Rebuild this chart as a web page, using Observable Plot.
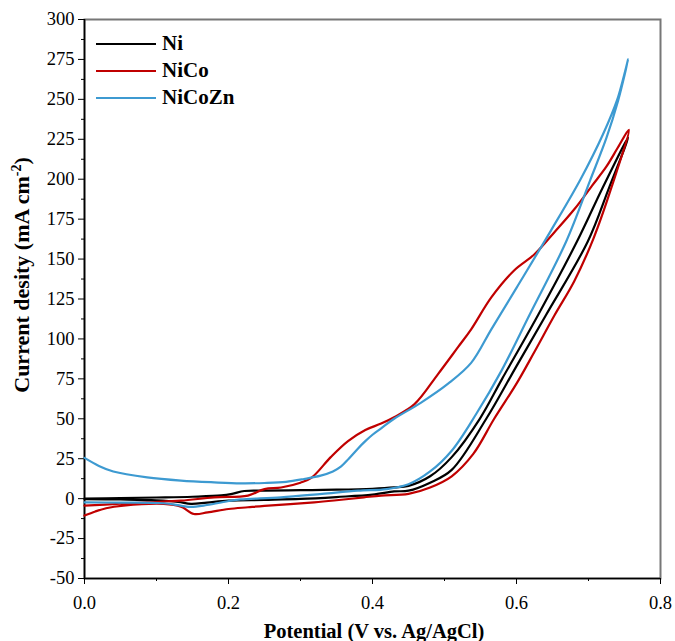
<!DOCTYPE html>
<html><head><meta charset="utf-8">
<script src="https://cdn.jsdelivr.net/npm/d3@7"></script>
<script src="https://cdn.jsdelivr.net/npm/@observablehq/plot@0.6"></script>
<style>
body{margin:0;background:#fff;}
#wrap{position:relative;width:675px;height:641px;font-family:"Liberation Serif","Times New Roman",serif;color:#000;}
#wrap svg{position:absolute;left:0;top:0;}
.lab{position:absolute;font-weight:bold;white-space:nowrap;}
.leg{position:absolute;font-weight:bold;font-size:21px;}
.legline{position:absolute;height:2.4px;}
</style></head><body><div id="wrap"></div>
<script>
const seriesNames = ["Ni", "NiCo", "NiCoZn"];
const seriesColors = ["#000000", "#c00000", "#3d9ad1"];

// Ni: forward (upper) then reverse (lower)
const niV = [0,0.05,0.1,0.15,0.19,0.205,0.222,0.25,0.3,0.35,0.4,0.43,0.45,0.48,0.51,0.549,0.58,0.63,0.684,0.72,0.755,
             0.728,0.699,0.641,0.6,0.558,0.51,0.48,0.45,0.43,0.4,0.35,0.3,0.25,0.2,0.17,0.148,0.13,0.1,0.05,0];
const niJ = [0,0.3,0.7,1.2,2,3,4.8,5,5.3,5.6,6.2,7,8,14,26,50,75,115,161,195,226,
             194,161,115,83,50,18,10,5,4.5,2.5,1,-0.2,-0.8,-1.3,-2.5,-3.3,-2,-1,-0.5,-0.3];

const nicoV = [0,0.05,0.087,0.134,0.18,0.227,0.25,0.273,0.3,0.315,0.342,0.366,0.39,0.412,0.43,0.458,0.491,0.519,0.537,0.565,0.597,0.625,0.653,0.68,0.705,0.725,0.741,0.756,
               0.732,0.707,0.68,0.653,0.625,0.6,0.569,0.54,0.51,0.48,0.45,0.412,0.388,0.35,0.319,0.25,0.227,0.2,0.171,0.152,0.134,0.11,0.054,0.03,0.015,0];
const nicoJ = [-4.4,-3.2,-2.3,-1.3,0.8,1.9,6,7,10,13,26,36,43,47,51,59,78,95,106,126,143,153,167,181,196,208,220,231,
               195,163,136,115,92,72,50,28,14,7,3,1.9,0.8,-1,-2.3,-4.5,-5.4,-6.5,-8.6,-9.6,-5,-3.3,-4.4,-6,-8,-10.6];

const nicoznV = [0,0.02,0.04,0.087,0.134,0.18,0.217,0.25,0.28,0.305,0.328,0.345,0.356,0.367,0.379,0.39,0.4,0.412,0.43,0.467,0.505,0.537,0.565,0.6,0.648,0.689,0.72,0.74,0.755,
                 0.741,0.725,0.702,0.669,0.618,0.579,0.544,0.51,0.48,0.45,0.42,0.38,0.33,0.273,0.217,0.203,0.17,0.148,0.135,0.11,0.05,0];
const nicoznJ = [25.5,20.5,17,13.3,11.3,10.2,9.6,9.8,10.5,12.3,14.4,17,20,25,31,36,40,44,50,60,72,85,106,132,168,200,228,250,275,
                 249,226,199,161,115,80,53,30,17,9,6,5,3,0.8,-0.5,-1.3,-4,-5.2,-4.5,-2.9,-2.5,-2.3];

const xTicks = [0, 0.2, 0.4, 0.6, 0.8];
const xMinor = [0.1, 0.3, 0.5, 0.7];
const yTicks = [-50,-25,0,25,50,75,100,125,150,175,200,225,250,275,300];
const yMinor = [-37.5,-12.5,12.5,37.5,62.5,87.5,112.5,137.5,162.5,187.5,212.5,237.5,262.5,287.5];

const rows = [];
[[niV, niJ], [nicoV, nicoJ], [nicoznV, nicoznJ]].forEach(([v, j], k) =>
  v.forEach((x, i) => rows.push({s: seriesNames[k], x, y: j[i]})));

const ff = "'Liberation Serif','Times New Roman',serif";
const plot = Plot.plot({
  width: 675, height: 641,
  marginLeft: 84, marginRight: 15, marginTop: 19, marginBottom: 63,
  x: {domain: [0, 0.8]},
  y: {domain: [-50, 300]},
  color: {domain: seriesNames, range: seriesColors},
  style: {fontFamily: ff, fontSize: "18px", background: "transparent", color: "#000"},
  marks: [
    Plot.frame({stroke: "#777", strokeWidth: 2}),
    Plot.axisX({ticks: xTicks, tickFormat: d => d.toFixed(1), tickSize: 6, tickPadding: 11, label: null, fontSize: 18.5, fontFamily: ff}),
    Plot.axisX({ticks: xMinor, tickFormat: () => "", tickSize: 3, label: null}),
    Plot.axisY({ticks: yTicks, tickFormat: d => String(d), tickSize: 6, tickPadding: 4, label: null, fontSize: 18.5, fontFamily: ff}),
    Plot.axisY({ticks: yMinor, tickFormat: () => "", tickSize: 3, label: null}),
    Plot.ruleX([0], {stroke: "#000", strokeWidth: 1.6}),
    Plot.ruleY([-50], {stroke: "#000", strokeWidth: 1.6}),
    Plot.line(rows, {x: "x", y: "y", z: "s", stroke: "s", strokeWidth: 2.2, curve: "catmull-rom"})
  ]
});
const wrap = document.getElementById("wrap");
wrap.appendChild(plot);

// axis titles
const xl = document.createElement("div");
xl.className = "lab";
xl.style.fontSize = "20.5px";
xl.textContent = "Potential (V vs. Ag/AgCl)";
xl.style.left = "374px"; xl.style.top = "620px"; xl.style.transform = "translateX(-50%)";
wrap.appendChild(xl);

const yl = document.createElement("div");
yl.className = "lab";
yl.style.fontSize = "22px";
yl.innerHTML = "Current desity (mA cm<sup style='font-size:14px'>-2</sup>)";
yl.style.left = "22px"; yl.style.top = "275px";
yl.style.transform = "translate(-50%,-50%) rotate(-90deg)";
wrap.appendChild(yl);

// legend
const legY = [44, 71, 98];
seriesNames.forEach((n, i) => {
  const l = document.createElement("div");
  l.className = "legline";
  l.style.left = "96px"; l.style.width = "60px"; l.style.top = (legY[i] - 1) + "px";
  l.style.background = seriesColors[i];
  wrap.appendChild(l);
  const t = document.createElement("div");
  t.className = "leg";
  t.textContent = n;
  t.style.left = "162px"; t.style.top = (legY[i] - 13) + "px";
  wrap.appendChild(t);
});
</script></body></html>
